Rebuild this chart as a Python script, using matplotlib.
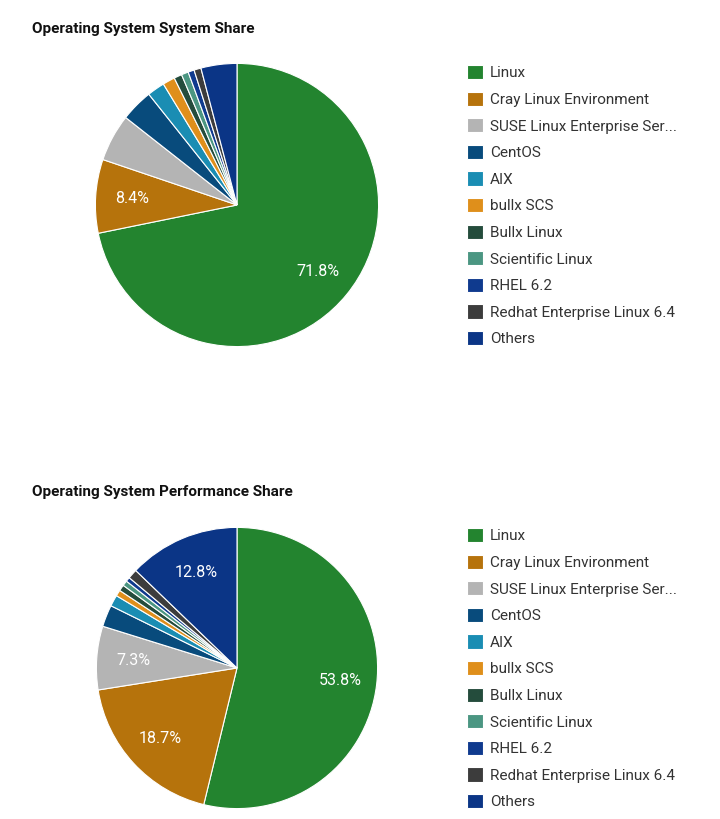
import matplotlib.pyplot as plt

plt.rcParams["font.family"] = ["Roboto", "DejaVu Sans"]

labels = [
    "Linux",
    "Cray Linux Environment",
    "SUSE Linux Enterprise Ser...",
    "CentOS",
    "AIX",
    "bullx SCS",
    "Bullx Linux",
    "Scientific Linux",
    "RHEL 6.2",
    "Redhat Enterprise Linux 6.4",
    "Others",
]
colors = [
    "#23842F", "#B6730C", "#B4B4B4", "#084B7C", "#1A8DB3", "#DF8F1B",
    "#244C3C", "#4B9682", "#0F3A8E", "#3C3C3C", "#0B3586",
]

system_share = [71.8, 8.4, 5.4, 3.7, 2.0, 1.4, 0.9, 0.8, 0.7, 0.8, 4.1]
perf_share = [53.8, 18.7, 7.3, 2.5, 1.3, 0.7, 0.7, 0.6, 0.5, 1.1, 12.8]

titles = ["Operating System System Share", "Operating System Performance Share"]

W, H = 720, 819
fig = plt.figure(figsize=(W / 100, H / 100), dpi=100)


def draw(values, title, cx, cy, r, title_y, legend_top):
    ax = fig.add_axes([(cx - r) / W, (H - cy - r) / H, 2 * r / W, 2 * r / H])
    wedges, _, autotexts = ax.pie(
        values, colors=colors, startangle=90, counterclock=False,
        autopct=lambda p: f"{p:.1f}%" if p >= 7 else "",
        pctdistance=0.74,
        wedgeprops=dict(edgecolor="white", linewidth=0.8),
        textprops=dict(color="white", fontsize=11.5),
    )
    ax.set_xlim(-1.01, 1.01)
    ax.set_ylim(-1.01, 1.01)
    fig.text(32 / W, 1 - title_y / H, title, fontsize=11, fontweight="bold",
             color="#111111", va="center", ha="left")
    leg = fig.legend(
        wedges, labels, loc="upper left",
        bbox_to_anchor=(467 / W, 1 - legend_top / H),
        frameon=False, fontsize=11, handlelength=1.05, handleheight=1.05,
        handletextpad=0.45, labelspacing=0.74, borderaxespad=0, borderpad=0,
    )
    for t in leg.get_texts():
        t.set_color("#333333")


draw(system_share, titles[0], 237, 205, 143, 29, 65)
draw(perf_share, titles[1], 237, 668, 142, 492, 528)

fig.savefig("out.png", dpi=100)
